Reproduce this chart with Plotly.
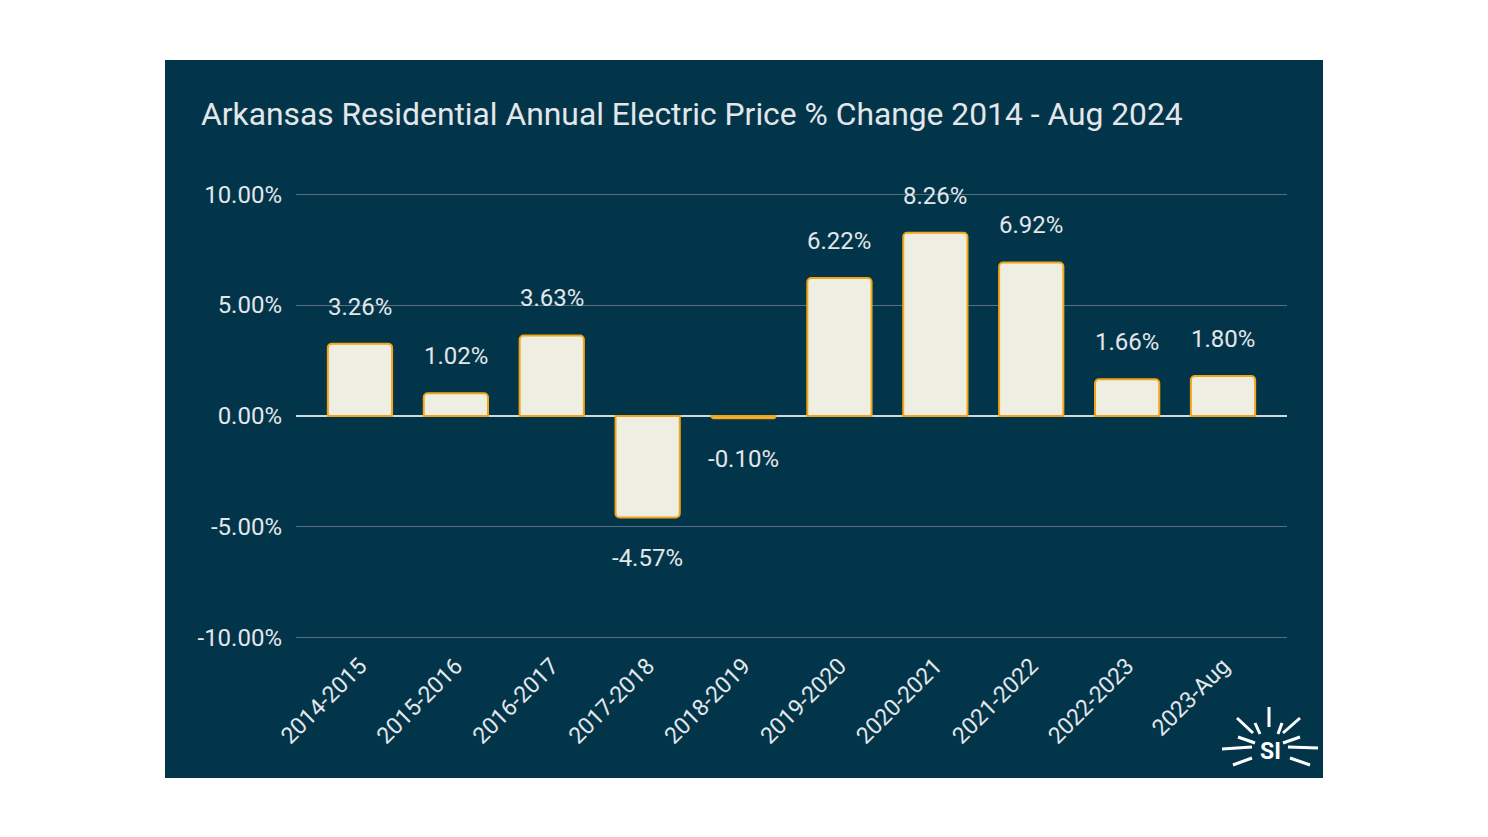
import plotly.graph_objects as go

categories = ["2014-2015", "2015-2016", "2016-2017", "2017-2018", "2018-2019",
              "2019-2020", "2020-2021", "2021-2022", "2022-2023", "2023-Aug"]
pct_change = [3.26, 1.02, 3.63, -4.57, -0.10, 6.22, 8.26, 6.92, 1.66, 1.80]
tick_vals = [-10, -5, 0, 5, 10]
tick_text = ["-10.00%", "-5.00%", "0.00%", "5.00%", "10.00%"]
title_text = "Arkansas Residential Annual Electric Price % Change 2014 - Aug 2024"

W, H = 1488, 837
NAVY = "#03354A"
TXT = "#e3e7ea"
FONT = "Roboto"

def px(x):
    return x / W

def py(y):
    return 1 - y / H

fig = go.Figure()
fig.add_trace(go.Bar(
    x=categories, y=pct_change, width=0.67,
    marker=dict(color="#EEEFE2", line=dict(color="#F2A516", width=2),
                cornerradius=4),
    hoverinfo="x+y",
))

annotations = []
for c, v in zip(categories, pct_change):
    annotations.append(dict(
        x=c, y=v, xref="x", yref="y", text=f"{v:.2f}%", showarrow=False,
        yshift=37 if v >= 0 else -41,
        font=dict(family=FONT, size=24, color=TXT),
    ))

annotations.append(dict(
    x=px(199), y=py(114), xref="paper", yref="paper", xanchor="left", yanchor="middle",
    text=title_text, showarrow=False, font=dict(family=FONT, size=31.8, color=TXT),
))
annotations.append(dict(
    x=px(1270), y=py(751), xref="paper", yref="paper", xanchor="center", yanchor="middle",
    text="<b>SI</b>", showarrow=False, font=dict(family=FONT, size=23, color="white"),
))

shapes = [dict(type="rect", xref="paper", yref="paper", layer="below",
               x0=px(165), x1=px(1323), y0=py(778), y1=py(60),
               fillcolor=NAVY, line=dict(width=0))]

# logo rays (decorative)
rays = [((1269, 707), (1269, 727)),
        ((1237, 718), (1253, 733)), ((1255, 723), (1260, 734)),
        ((1238, 737), (1255, 743)), ((1222, 749), (1252, 747)),
        ((1233, 765), (1252, 758)),
        ((1300, 718), (1283, 733)), ((1282, 723), (1278, 734)),
        ((1300, 737), (1283, 743)), ((1318, 748), (1288, 747)),
        ((1310, 765), (1290, 758))]
for (x0, y0), (x1, y1) in rays:
    shapes.append(dict(type="line", xref="paper", yref="paper",
                       x0=px(x0), y0=py(y0), x1=px(x1), y1=py(y1),
                       line=dict(color="white", width=3)))

fig.update_layout(
    width=W, height=H, autosize=False,
    margin=dict(l=0, r=0, t=0, b=0, pad=0, autoexpand=False),
    paper_bgcolor="white", plot_bgcolor=NAVY,
    showlegend=False,
    shapes=shapes, annotations=annotations,
    font=dict(family=FONT, color=TXT),
    xaxis=dict(domain=[px(296), px(1287)], range=[-0.667, 9.667], automargin=False,
               tickangle=-45, tickfont=dict(family=FONT, size=23, color=TXT),
               showgrid=False, showline=False, ticks="", ticklabelstandoff=8),
    yaxis=dict(domain=[py(639), py(193)], range=[-10.05, 10.05], automargin=False,
               tickvals=tick_vals, ticktext=tick_text,
               tickfont=dict(family=FONT, size=24, color=TXT),
               gridcolor="#56707f", gridwidth=1,
               zeroline=True, zerolinecolor="#cfd8de", zerolinewidth=2,
               ticks="", showline=False, ticklabelstandoff=13),
    bargap=0.3,
)

fig.write_html("out.html", config={"displayModeBar": False},
               post_script="document.body.style.margin='0';document.body.style.overflow='hidden';")
